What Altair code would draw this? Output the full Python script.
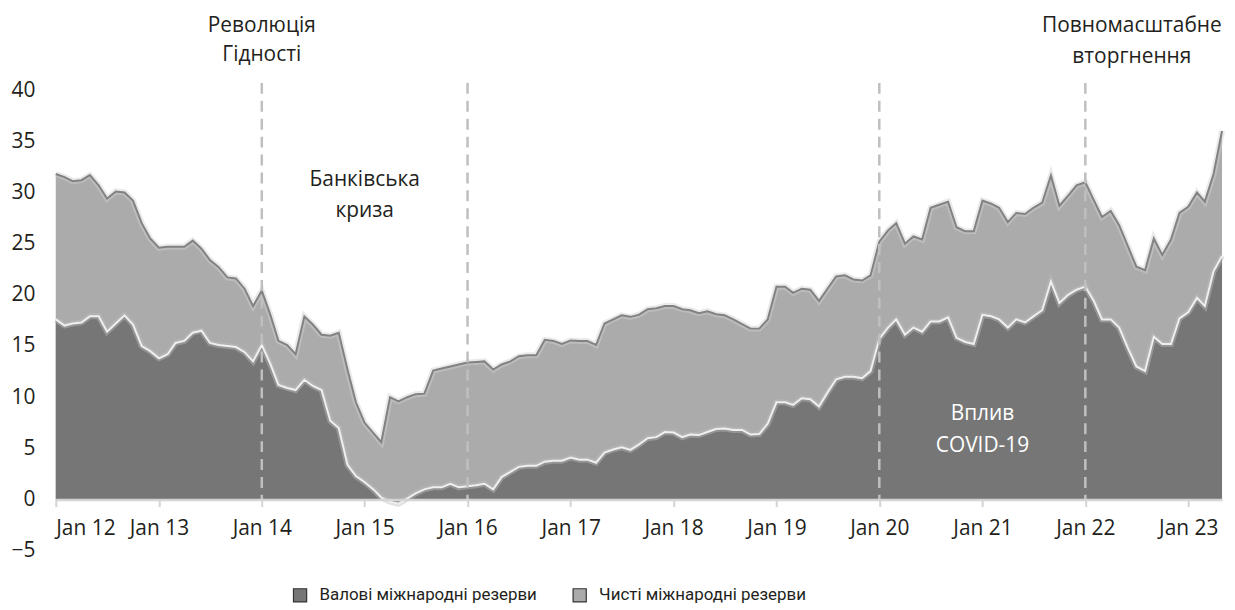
import altair as alt
import pandas as pd

# ---- data (monthly, Jan 2012 .. May 2023), USD bn ----
start_month = "2012-01-01"
n_months = 137

gross = [  # Валові міжнародні резерви (dark area)
    17.6, 17.0, 17.2, 17.3, 17.9, 17.9, 16.4, 17.2, 18.0, 17.1, 15.0, 14.5,
    13.8, 14.2, 15.3, 15.5, 16.3, 16.5, 15.3, 15.1, 15.0, 14.9, 14.4, 13.5,
    15.1, 13.2, 11.2, 10.9, 10.7, 11.7, 11.1, 10.7, 7.7, 7.0, 3.4, 2.3,
    1.7, 1.0, 0.2, -0.2, -0.4, 0.1, 0.6, 1.0, 1.2, 1.2, 1.55, 1.2,
    1.3, 1.4, 1.55, 1.0, 2.2, 2.7, 3.2, 3.3, 3.3, 3.7, 3.8, 3.8,
    4.1, 3.9, 3.9, 3.6, 4.6, 4.9, 5.1, 4.85, 5.4, 6.0, 6.1, 6.6,
    6.55, 6.1, 6.35, 6.3, 6.6, 6.9, 6.95, 6.8, 6.8, 6.35, 6.4, 7.4,
    9.5, 9.5, 9.25, 9.9, 9.8, 9.1, 10.45, 11.75, 12.0, 12.0, 11.85, 12.55,
    15.7, 16.8, 17.6, 16.1, 16.8, 16.4, 17.4, 17.4, 17.8, 15.8, 15.4, 15.2,
    18.05, 17.9, 17.6, 16.8, 17.6, 17.3, 17.9, 18.5, 21.3, 19.2, 20.0, 20.5,
    20.8, 19.35, 17.6, 17.6, 16.8, 14.8, 13.0, 12.55, 15.9, 15.2, 15.2, 17.7,
    18.3, 19.7, 18.9, 22.3, 23.8,
]
net = [  # Чисті міжнародні резерви (light area)
    31.8, 31.5, 31.1, 31.2, 31.7, 30.7, 29.4, 30.1, 30.0, 29.2, 27.0, 25.5,
    24.6, 24.7, 24.7, 24.7, 25.3, 24.5, 23.4, 22.7, 21.7, 21.6, 20.6, 18.9,
    20.4, 18.0, 15.5, 15.1, 14.2, 17.9, 17.1, 16.1, 16.0, 16.3, 12.7, 9.5,
    7.5, 6.5, 5.6, 10.0, 9.6, 10.0, 10.3, 10.35, 12.6, 12.8, 13.0, 13.2,
    13.4, 13.45, 13.5, 12.7, 13.2, 13.5, 14.0, 14.1, 14.1, 15.6, 15.5, 15.2,
    15.55, 15.5, 15.5, 15.1, 17.2, 17.6, 18.0, 17.85, 18.06, 18.6, 18.7, 18.9,
    18.9, 18.6, 18.5, 18.2, 18.4, 18.1, 18.0, 17.6, 17.15, 16.7, 16.7, 17.6,
    20.8, 20.8, 20.2, 20.6, 20.5, 19.4, 20.6, 21.8, 21.9, 21.5, 21.4, 21.9,
    25.2, 26.3, 27.0, 25.0, 25.7, 25.4, 28.5, 28.8, 29.1, 26.6, 26.2, 26.2,
    29.2, 28.9, 28.5, 27.1, 28.0, 27.9, 28.5, 29.0, 31.65, 28.7, 29.7, 30.7,
    31.0, 29.2, 27.6, 28.2, 26.8, 24.75, 22.75, 22.4, 25.5, 23.9, 25.4, 28.0,
    28.6, 30.0, 29.1, 31.8, 36.0,
]

GROSS = "Валові міжнародні резерви"
NET = "Чисті міжнародні резерви"

event_dates = ["2014-01-01", "2016-01-01", "2020-01-01", "2022-01-01"]
event_top = [40.7, 40.7, 40.7, 40.7]

ann_dates = ["2014-01-01", "2014-01-01", "2015-01-01", "2015-01-01",
             "2021-01-01", "2021-01-01", "2022-06-15", "2022-06-15"]
ann_levels = [46.3, 43.4, 31.2, 28.2, 8.35, 5.25, 46.3, 43.2]
ann_texts = ["Революція", "Гідності", "Банківська", "криза",
             "Вплив", "COVID-19", "Повномасштабне", "вторгнення"]
ann_colors = ["#231f20", "#231f20", "#231f20", "#231f20",
              "#ffffff", "#ffffff", "#231f20", "#231f20"]

year_ticks = list(range(2012, 2024))
y_ticks = list(range(-5, 45, 5))
y_domain = [-5, 40]

# ---- tables ----
dates = pd.date_range(start_month, periods=n_months, freq="MS").strftime("%Y-%m-%d")
df = pd.DataFrame({"date": dates, "gross": gross, "net": net})
df_rules = pd.DataFrame({"date": event_dates, "top": event_top, "bottom": [0] * len(event_dates)})
df_ann = pd.DataFrame({"date": ann_dates, "v": ann_levels, "label": ann_texts, "col": ann_colors})

W, H = 1172, 463
FONT = "Open Sans"
TXT = "#231f20"

def X():
    return alt.X(
        "date:T",
        scale=alt.Scale(type="utc",
                        domain=[alt.DateTime(year=2012, month=1, date=1, utc=True),
                                alt.DateTime(year=2023, month=5, date=1, utc=True)]),
        axis=alt.Axis(values=[alt.DateTime(year=y, month=1, date=1, utc=True) for y in year_ticks],
                      format="%b %y", title=None, grid=False,
                      offset=-H * (0 - y_domain[0]) / (y_domain[1] - y_domain[0]),
                      domainColor="#d4d4d4", domainWidth=2.5,
                      tickColor="#d4d4d4", tickWidth=2, tickSize=7,
                      labelFont=FONT, labelFontSize=21, labelColor=TXT,
                      labelPadding=11, zindex=1),
    )

def Y(field):
    return alt.Y(
        field,
        scale=alt.Scale(domain=y_domain, nice=False, zero=False),
        axis=alt.Axis(values=y_ticks, title=None, grid=False, domain=False, ticks=False,
                      labelFont=FONT, labelFontSize=21, labelColor=TXT, labelPadding=21),
    )

color_scale = alt.Scale(domain=[GROSS, NET], range=["#767676", "#ababab"])
legend = alt.Legend(orient="none", legendX=237, legendY=499, direction="horizontal",
                    title=None, symbolType="square", symbolSize=175,
                    symbolStrokeColor="#333333", symbolStrokeWidth=1.2, symbolOpacity=1,
                    labelFont="Roboto", labelFontSize=17, labelColor=TXT, labelLimit=600,
                    labelOffset=11, columnPadding=33)

base = alt.Chart(df)

light = base.transform_calculate(series=f"'{NET}'").mark_area(opacity=1).encode(
    x=X(), y=Y("net:Q"),
    color=alt.Color("series:N", scale=color_scale, legend=legend))
dark = base.transform_calculate(series=f"'{GROSS}'").mark_area(opacity=1).encode(
    x=X(), y=Y("gross:Q"),
    color=alt.Color("series:N", scale=color_scale, legend=legend))

up_halo = base.mark_line(color="#d0d0d0", strokeWidth=6, opacity=0.45).encode(x=X(), y=Y("net:Q"))
up_line = base.mark_line(color="#828282", strokeWidth=2).encode(x=X(), y=Y("net:Q"))
lo_halo = base.mark_line(color="#bdbdbd", strokeWidth=6, opacity=0.45).encode(x=X(), y=Y("gross:Q"))
lo_line = base.mark_line(color="#efefef", strokeWidth=2).encode(x=X(), y=Y("gross:Q"))

edges = base.transform_filter(
    f"datum.date == '{dates[0]}' || datum.date == '{dates[-1]}'"
).transform_calculate(zero="0").mark_rule(color="#d6d6d6", strokeWidth=2).encode(
    x=X(), y=Y("net:Q"), y2="zero:Q")

rules = alt.Chart(df_rules).mark_rule(color="#bfbfbf", strokeWidth=2.5, strokeDash=[11, 7]).encode(
    x=X(), y=Y("top:Q"), y2="bottom:Q")

ann = alt.Chart(df_ann).mark_text(font=FONT, fontSize=21, align="center", baseline="middle").encode(
    x=X(), y=Y("v:Q"), text="label:N", color=alt.Color("col:N", scale=None))

chart = alt.layer(light, dark, up_halo, lo_halo, up_line, lo_line, edges, rules, ann).properties(
    width=W, height=H,
    autosize=alt.AutoSizeParams(type="none"),
    padding={"left": 48, "top": 81, "right": 5, "bottom": 53},
).configure_view(stroke=None)

chart.save("out.html", embed_options={"renderer": "svg", "actions": False})
